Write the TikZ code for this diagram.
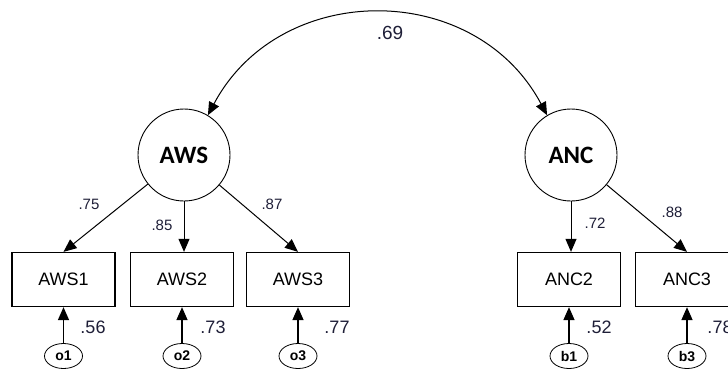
\documentclass[tikz,border=0pt]{standalone}
\usepackage{fontspec}
\setmainfont{Liberation Sans}
\newfontfamily\latentfont{Carlito}
\usetikzlibrary{arrows.meta,shapes.geometric}
\definecolor{numcol}{RGB}{30,30,55}

\begin{document}
\begin{tikzpicture}[x=1pt,y=-1pt,
  latent/.style={circle,draw,line width=0.9pt,minimum size=92pt,inner sep=0pt,
    font=\latentfont\bfseries\fontsize{25}{25}\selectfont},
  observed/.style={rectangle,draw,line width=1.3pt,minimum width=103pt,minimum height=54pt,
    inner sep=0pt,font=\fontsize{18}{18}\selectfont},
  errvar/.style={ellipse,draw,line width=0.8pt,minimum width=38pt,minimum height=25pt,
    inner sep=0pt,font=\bfseries\fontsize{14}{14}\selectfont},
  load/.style={-{Triangle[length=13pt,width=11pt]},line width=1pt},
  errpath/.style={-{Triangle[length=13pt,width=11pt]},line width=1.6pt},
  coef/.style={text=numcol,font=\fontsize{15}{15}\selectfont,inner sep=0pt},
  varcoef/.style={text=numcol,font=\fontsize{18}{18}\selectfont,inner sep=0pt},
]
\useasboundingbox (0,0) rectangle (728,376);
\clip (0,0) rectangle (728,376);

% latent factors
\node[latent] (aws) at (184,155) {AWS};
\node[latent] (anc) at (571,155) {ANC};

% indicators
\node[observed] (aws1) at (63.5,279.5) {AWS1};
\node[observed] (aws2) at (182,279.5) {AWS2};
\node[observed] (aws3) at (298,279.5) {AWS3};
\node[observed] (anc2) at (569,279.5) {ANC2};
\node[observed] (anc3) at (687,279.5) {ANC3};

% error terms
\node[errvar] (o1) at (63.5,356) {o1};
\node[errvar] (o2) at (182,356) {o2};
\node[errvar] (o3) at (298,356) {o3};
\node[errvar] (b1) at (569,356) {b1};
\node[errvar] (b3) at (687,356) {b3};

% covariance between the factors
\draw[{Triangle[length=13pt,width=11pt]}-{Triangle[length=13pt,width=11pt]},line width=1pt]
  (aws.59) to[out=62,in=118,looseness=1.16] (anc.121);
\node[varcoef,font=\fontsize{19}{19}\selectfont] (r) at (390,33) {.69};

% loadings
\draw[load] (aws) -- (aws1.north);
\draw[load] (aws.south) -- (aws.south |- aws2.north);
\draw[load] (aws) -- (aws3.north);
\draw[load] (anc.south) -- (anc.south |- anc2.north);
\draw[load] (anc) -- (anc3.north);

\node[coef] (l1) at (89,204) {.75};
\node[coef] (l2) at (162,225) {.85};
\node[coef] (l3) at (272,204) {.87};
\node[coef] (l4) at (595,223) {.72};
\node[coef] (l5) at (672,212) {.88};

% error paths
\draw[errpath] (o1) -- (aws1);
\draw[errpath] (o2) -- (aws2);
\draw[errpath] (o3) -- (aws3);
\draw[errpath] (b1) -- (anc2);
\draw[errpath] (b3) -- (anc3);

\node[varcoef] (e1) at (93,327) {.56};
\node[varcoef] (e2) at (213,327) {.73};
\node[varcoef] (e3) at (337,327) {.77};
\node[varcoef] (e4) at (599,327) {.52};
\node[varcoef] (e5) at (720,327) {.78};
\end{tikzpicture}
\end{document}
